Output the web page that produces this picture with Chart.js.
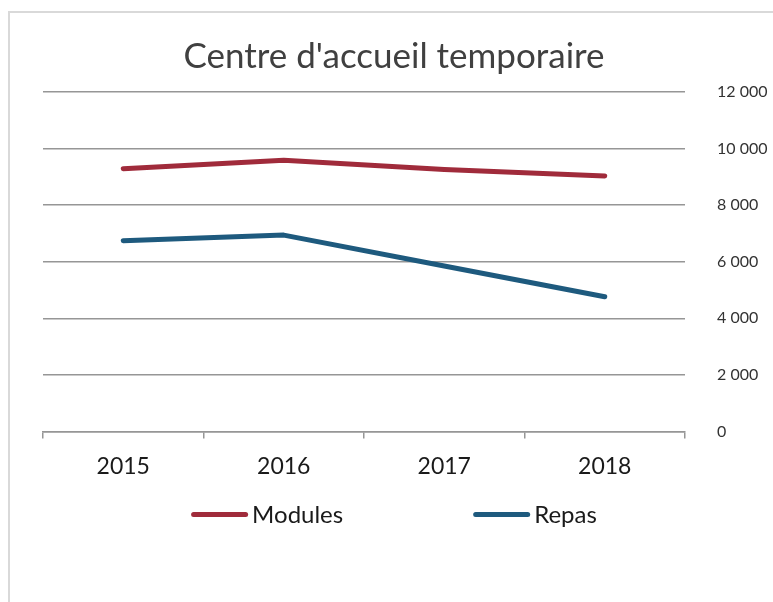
<!DOCTYPE html>
<html>
<head>
<meta charset="utf-8">
<script src="https://cdn.jsdelivr.net/npm/chart.js@4"></script>
<style>
  html, body { margin: 0; padding: 0; overflow: hidden; background: #fff; width: 773px; height: 602px; }
  #box { position: absolute; left: 8px; top: 11px; width: 770px; height: 600px;
         border-left: 2px solid #d9d9d9; border-top: 2px solid #d9d9d9; }
  #box div { position: relative; width: 768px; height: 590px; }
</style>
</head>
<body>
<div id="box"><div><canvas id="chart"></canvas></div></div>
<script>
const years = ["2015", "2016", "2017", "2018"];
const modules = [9290, 9590, 9260, 9030];
const repas = [6740, 6940, 5850, 4760];
const yTicks = [0, 2000, 4000, 6000, 8000, 10000, 12000];

const gridColor = "#969696";
const font = "Lato";

// thousands with a space, like "12 000"
function fmt(v) {
  return String(v).replace(/\B(?=(\d{3})+(?!\d))/g, " ");
}

// Excel-like legend: long line, text right after it
const lineLegend = {
  id: "lineLegend",
  afterDraw(chart) {
    const ctx = chart.ctx;
    const sets = chart.data.datasets;
    const lineW = 57, gap = 4, itemGap = 130;
    ctx.save();
    ctx.font = "24px " + font;
    let total = 0;
    sets.forEach((ds, i) => {
      total += lineW + gap + ctx.measureText(ds.label).width;
      if (i > 0) total += itemGap;
    });
    let x = chart.width / 2 - total / 2;
    const y = chart.chartArea.bottom + 83;
    sets.forEach((ds) => {
      ctx.strokeStyle = ds.borderColor;
      ctx.lineWidth = 5;
      ctx.lineCap = "round";
      ctx.beginPath();
      ctx.moveTo(x + 2.5, y);
      ctx.lineTo(x + lineW - 2.5, y);
      ctx.stroke();
      ctx.fillStyle = "#1a1a1a";
      ctx.textBaseline = "middle";
      ctx.textAlign = "left";
      ctx.fillText(ds.label, x + lineW + gap, y + 1);
      x += lineW + gap + ctx.measureText(ds.label).width + itemGap;
    });
    ctx.restore();
  },
};

new Chart(document.getElementById("chart"), {
  type: "line",
  data: {
    labels: years,
    datasets: [
      {
        label: "Modules",
        data: modules,
        yAxisID: "y",
        borderColor: "#a02b3b",
        backgroundColor: "#a02b3b",
        borderWidth: 5,
        borderCapStyle: "round",
        borderJoinStyle: "round",
        pointRadius: 0,
        tension: 0,
      },
      {
        label: "Repas",
        data: repas,
        yAxisID: "y",
        borderColor: "#1e5a7e",
        backgroundColor: "#1e5a7e",
        borderWidth: 5,
        borderCapStyle: "round",
        borderJoinStyle: "round",
        pointRadius: 0,
        tension: 0,
      },
    ],
  },
  options: {
    responsive: true,
    maintainAspectRatio: false,
    animation: false,
    layout: { padding: { left: 0, right: 0, top: 0, bottom: 109 } },
    plugins: {
      legend: { display: false },
      tooltip: { enabled: false },
      title: {
        display: true,
        text: "Centre d'accueil temporaire",
        color: "#404040",
        font: { family: font, size: 35, weight: "normal" },
        padding: { top: 23, bottom: 14 },
      },
    },
    scales: {
      x: {
        offset: true,
        border: { display: true, color: gridColor, width: 1.5 },
        grid: {
          offset: true,
          drawOnChartArea: false,
          drawTicks: true,
          tickLength: 7,
          color: gridColor,
          lineWidth: 1.5,
        },
        ticks: {
          color: "#1a1a1a",
          font: { family: font, size: 23 },
          padding: 14,
          maxRotation: 0,
        },
      },
      // empty left margin, keeps the title centred on the whole canvas
      side: {
        type: "linear",
        position: "left",
        display: true,
        afterFit(scale) { scale.width = 33; },
        border: { display: false },
        grid: { display: false },
        ticks: { display: false },
      },
      y: {
        type: "linear",
        position: "right",
        min: 0,
        max: 12000,
        afterFit(scale) { scale.width = 93; },
        afterBuildTicks(scale) { scale.ticks = yTicks.map((v) => ({ value: v })); },
        border: { display: false },
        grid: { drawTicks: false, color: gridColor, lineWidth: 1.5 },
        ticks: {
          color: "#333333",
          font: { family: font, size: 16 },
          padding: 32,
          callback: (v) => fmt(v),
        },
      },
    },
  },
  plugins: [lineLegend],
});
</script>
</body>
</html>
